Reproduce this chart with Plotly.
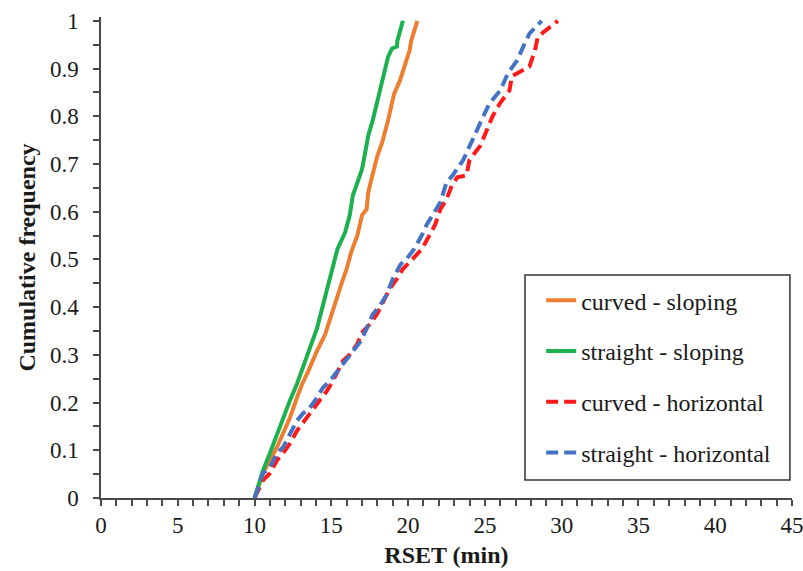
import plotly.graph_objects as go

# ---- data ----
curved_sloping_x = [10.0, 10.55, 11.0, 11.46, 11.85, 12.3, 12.76, 13.1, 13.5, 14.06, 14.6, 15.0, 15.4, 15.7,
                    16.0, 16.3, 16.7, 17.0, 17.3, 17.4, 17.6, 17.8, 18.0, 18.3, 18.5, 18.7, 18.9, 19.1,
                    19.47, 19.66, 19.9, 20.1, 20.2, 20.4, 20.6]
curved_sloping_y = [0, 0.052, 0.079, 0.106, 0.135, 0.168, 0.210, 0.239, 0.266, 0.308, 0.343, 0.385, 0.426,
                    0.453, 0.480, 0.516, 0.551, 0.593, 0.605, 0.64, 0.667, 0.696, 0.717, 0.744, 0.765, 0.792,
                    0.821, 0.848, 0.875, 0.896, 0.917, 0.938, 0.958, 0.979, 1.0]

straight_sloping_x = [10.0, 10.55, 11.0, 11.46, 11.85, 12.3, 12.76, 13.1, 13.6, 14.06, 14.45, 14.8, 15.1, 15.4,
                      15.9, 16.2, 16.4, 16.7, 16.99, 17.2, 17.4, 17.7, 17.97, 18.2, 18.5, 18.7, 18.95, 19.27,
                      19.3, 19.47, 19.66]
straight_sloping_y = [0, 0.058, 0.094, 0.135, 0.168, 0.204, 0.239, 0.272, 0.314, 0.355, 0.405, 0.453, 0.489,
                      0.522, 0.557, 0.593, 0.634, 0.661, 0.688, 0.723, 0.759, 0.792, 0.827, 0.863, 0.896,
                      0.925, 0.942, 0.946, 0.958, 0.979, 1.0]

curved_horizontal_x = [10.0, 10.55, 11.0, 11.46, 11.85, 12.3, 12.76, 13.4, 13.8, 14.26, 14.7, 15.1, 15.75, 16.2,
                       16.67, 17.06, 17.5, 17.97, 18.36, 18.8, 19.27, 19.66, 20.3, 20.9, 21.4, 21.75, 22.1,
                       22.5, 22.85, 23.2, 23.8, 24.0, 24.7, 25.1, 25.5, 25.98, 26.6, 26.76, 27.1, 27.9, 28.26,
                       28.45, 29.75]
curved_horizontal_y = [0, 0.037, 0.052, 0.079, 0.094, 0.114, 0.141, 0.168, 0.183, 0.204, 0.224, 0.245, 0.287,
                       0.301, 0.322, 0.349, 0.364, 0.385, 0.412, 0.438, 0.459, 0.480, 0.501, 0.522, 0.551,
                       0.572, 0.605, 0.626, 0.655, 0.672, 0.676, 0.709, 0.738, 0.771, 0.8, 0.827, 0.854,
                       0.884, 0.89, 0.904, 0.938, 0.967, 1.0]

straight_horizontal_x = [10.0, 10.55, 11.0, 11.46, 11.85, 12.3, 12.76, 13.15, 13.6, 14.06, 14.45, 14.9, 15.4,
                         15.9, 16.4, 16.9, 17.3, 17.7, 18.2, 18.6, 19.0, 19.5, 19.9, 20.4, 20.9, 21.2, 21.6,
                         22.1, 22.5, 22.9, 23.6, 24.0, 24.5, 24.9, 25.3, 26.0, 26.5, 27.1, 27.5, 27.9, 28.7]
straight_horizontal_y = [0, 0.052, 0.064, 0.094, 0.106, 0.135, 0.162, 0.177, 0.189, 0.210, 0.231, 0.245, 0.266,
                         0.287, 0.308, 0.328, 0.355, 0.385, 0.405, 0.426, 0.459, 0.489, 0.501, 0.522, 0.551,
                         0.572, 0.593, 0.62, 0.661, 0.676, 0.709, 0.738, 0.771, 0.8, 0.827, 0.854, 0.89, 0.917,
                         0.946, 0.973, 1.0]

series_names = ["curved - sloping", "straight - sloping", "curved - horizontal", "straight - horizontal"]
series_colors = ["#ED7D31", "#1DB04F", "#FF1A1A", "#4472C4"]
series_dash = ["solid", "solid", "12px,6px", "12px,6px"]

x_tick_vals = [0, 5, 10, 15, 20, 25, 30, 35, 40, 45]
y_tick_vals = [0, 0.1, 0.2, 0.3, 0.4, 0.5, 0.6, 0.7, 0.8, 0.9, 1]
y_tick_text = ["0", "0.1", "0.2", "0.3", "0.4", "0.5", "0.6", "0.7", "0.8", "0.9", "1"]

xs = [curved_sloping_x, straight_sloping_x, curved_horizontal_x, straight_horizontal_x]
ys = [curved_sloping_y, straight_sloping_y, curved_horizontal_y, straight_horizontal_y]

font_family = "Times New Roman, DejaVu Serif, serif"

fig = go.Figure()
for i in range(4):
    fig.add_trace(go.Scatter(
        x=xs[i], y=ys[i], mode="lines", name=series_names[i],
        legendgroup=f"g{i}",
        line=dict(color=series_colors[i], width=4, dash=series_dash[i]),
    ))

# legend frame (drawn as a paper-referenced rectangle so the frame can be wider than the entries)
fig.add_shape(type="rect", xref="paper", yref="paper",
              x0=0.6136, x1=0.997, y0=0.0374, y1=0.4636,
              line=dict(color="#333333", width=1.5), fillcolor="rgba(0,0,0,0)", layer="above")

axis_color = "#4a4a4a"
fig.update_layout(
    width=803, height=571,
    margin=dict(l=101, r=11, t=17, b=73),
    paper_bgcolor="white", plot_bgcolor="white",
    font=dict(family=font_family, size=24, color="#1a1a1a"),
    showlegend=True,
    legend=dict(
        x=0.637, y=0.457, xanchor="left", yanchor="top",
        borderwidth=0, bgcolor="rgba(0,0,0,0)",
        font=dict(family=font_family, size=24, color="#1a1a1a"),
        tracegroupgap=16.5, itemwidth=30,
    ),
    xaxis=dict(
        range=[0, 45], tickmode="array", tickvals=x_tick_vals,
        showgrid=False, zeroline=False, automargin=False,
        showline=True, linecolor=axis_color, linewidth=1.5,
        ticks="outside", ticklen=6, tickwidth=1.5, tickcolor=axis_color,
        minor=dict(dtick=1, tick0=0, ticks="outside", ticklen=6, tickwidth=1.5, tickcolor=axis_color, showgrid=False),
        tickfont=dict(family=font_family, size=23),
        ticklabeloverflow="allow",
        title=dict(text="<b>RSET (min)</b>", font=dict(family=font_family, size=24), standoff=9),
    ),
    yaxis=dict(
        range=[0, 1.008], tickmode="array",
        tickvals=y_tick_vals, ticktext=y_tick_text,
        showgrid=False, zeroline=False, automargin=False,
        showline=True, linecolor=axis_color, linewidth=1.5,
        ticks="outside", ticklen=6, tickwidth=1.5, tickcolor=axis_color,
        minor=dict(tickmode="array", tickvals=[0.05, 0.15, 0.25, 0.35, 0.45, 0.55, 0.65, 0.75, 0.85, 0.95],
                   ticks="outside", ticklen=6, tickwidth=1.5, tickcolor=axis_color, showgrid=False),
        tickfont=dict(family=font_family, size=23),
        ticklabelstandoff=10,
        title=dict(text="<b>Cumulative frequency</b>", font=dict(family=font_family, size=24), standoff=8),
    ),
)

fig.write_html("out.html")
